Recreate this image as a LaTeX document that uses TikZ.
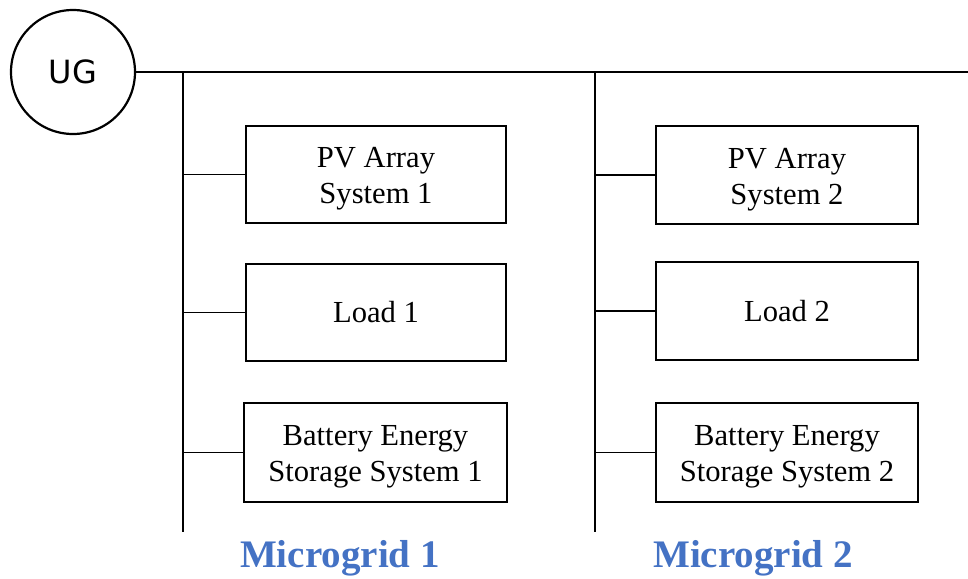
\documentclass[tikz,border=0pt]{standalone}
\usepackage{fontspec}
\setmainfont{Liberation Serif}
\newfontfamily\ugfont{DejaVu Sans}
\definecolor{mgblue}{HTML}{4472C4}
\newcommand\lowtxt[1]{\raisebox{-4pt}[\height][\depth]{\begin{tabular}{@{}c@{}}#1\end{tabular}}}
\begin{document}
\begin{tikzpicture}[x=1pt,y=-1pt,
  comp/.style={draw, line width=1.3pt, align=center, inner sep=0pt,
    font=\fontsize{30.6}{36}\selectfont},
  wire/.style={line width=1.4pt},
  mglabel/.style={anchor=base, text=mgblue, font=\fontsize{39}{44}\selectfont\bfseries}]
\useasboundingbox (0,0) rectangle (968,578);
\node[draw, circle, line width=2.2pt, minimum size=124pt, inner sep=0pt,
  font=\ugfont\fontsize{32}{36}\selectfont] (ug) at (73,72) {UG};
\coordinate (east) at (968,72);
\coordinate (b1top) at (183,72);
\coordinate (b1bot) at (183,532);
\coordinate (b2top) at (595,72);
\coordinate (b2bot) at (595,532);
% microgrid 1
\node[comp, minimum width=260pt, minimum height=97pt] (pv1) at (376,174.5) {\lowtxt{PV Array\\System 1}};
\node[comp, minimum width=260pt, minimum height=97pt] (ld1) at (376,312.5) {Load 1};
\node[comp, minimum width=263pt, minimum height=99pt] (bat1) at (375.5,452.5) {\lowtxt{Battery Energy\\Storage System 1}};
% microgrid 2
\node[comp, minimum width=262pt, minimum height=98pt] (pv2) at (787,175) {\lowtxt{PV Array\\System 2}};
\node[comp, minimum width=262pt, minimum height=98pt] (ld2) at (787,311) {Load 2};
\node[comp, minimum width=262pt, minimum height=99pt] (bat2) at (787,452.5) {\lowtxt{Battery Energy\\Storage System 2}};
% wires
\draw[wire] (ug.east) -- (east);
\draw[wire] (b1top) -- (b1bot);
\draw[wire] (b2top) -- (b2bot);
\draw[wire] (b1top |- pv1.west) -- (pv1.west);
\draw[wire] (b1top |- ld1.west) -- (ld1.west);
\draw[wire] (b1top |- bat1.west) -- (bat1.west);
\draw[wire] (b2top |- pv2.west) -- (pv2.west);
\draw[wire] (b2top |- ld2.west) -- (ld2.west);
\draw[wire] (b2top |- bat2.west) -- (bat2.west);
% labels
\node[mglabel] (mg1) at (340,567) {Microgrid 1};
\node[mglabel] (mg2) at (753,567) {Microgrid 2};
\end{tikzpicture}
\end{document}
